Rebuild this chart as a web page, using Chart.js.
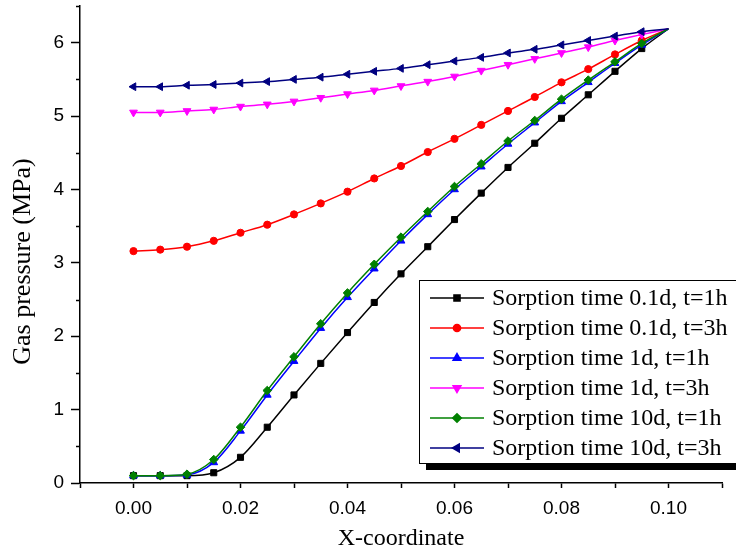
<!DOCTYPE html>
<html>
<head>
<meta charset="utf-8">
<script src="https://cdn.jsdelivr.net/npm/chart.js@4.4.1/dist/chart.umd.min.js"></script>
<style>
  html, body { margin: 0; padding: 0; background: #ffffff; }
  #wrap { width: 736px; height: 555px; position: relative; overflow: hidden; }
</style>
</head>
<body>
<div id="wrap"><canvas id="c" width="736" height="555"></canvas></div>
<script>
// Position along the sample (m)
const xCoord = [0.000, 0.005, 0.010, 0.015, 0.020, 0.025, 0.030, 0.035, 0.040, 0.045, 0.050,
                0.055, 0.060, 0.065, 0.070, 0.075, 0.080, 0.085, 0.090, 0.095, 0.100];

// Gas pressure (MPa) for each sorption time / elapsed time
const p01d1h = [0.10, 0.10, 0.10, 0.14, 0.35, 0.76, 1.20, 1.63, 2.05, 2.46, 2.85,
                3.22, 3.59, 3.95, 4.30, 4.63, 4.97, 5.29, 5.61, 5.92, 6.19];
const p01d3h = [3.16, 3.18, 3.22, 3.30, 3.41, 3.52, 3.66, 3.81, 3.97, 4.15, 4.32,
                4.51, 4.69, 4.88, 5.07, 5.26, 5.46, 5.64, 5.84, 6.03, 6.19];
const p1d1h  = [0.10, 0.10, 0.11, 0.28, 0.71, 1.20, 1.66, 2.11, 2.53, 2.92, 3.30,
                3.66, 4.00, 4.31, 4.62, 4.91, 5.20, 5.46, 5.72, 5.97, 6.19];
const p1d3h  = [5.05, 5.05, 5.07, 5.09, 5.13, 5.16, 5.20, 5.25, 5.30, 5.35, 5.41,
                5.47, 5.54, 5.62, 5.70, 5.78, 5.86, 5.94, 6.03, 6.11, 6.19];
const p10d1h = [0.10, 0.10, 0.12, 0.32, 0.76, 1.26, 1.72, 2.17, 2.59, 2.98, 3.35,
                3.70, 4.04, 4.35, 4.66, 4.94, 5.23, 5.49, 5.74, 5.99, 6.19];
const p10d3h = [5.40, 5.40, 5.42, 5.43, 5.45, 5.47, 5.50, 5.53, 5.57, 5.61, 5.65,
                5.70, 5.75, 5.80, 5.86, 5.91, 5.97, 6.03, 6.09, 6.15, 6.19];

const seriesNames = [
  'Sorption time 0.1d, t=1h',
  'Sorption time 0.1d, t=3h',
  'Sorption time 1d, t=1h',
  'Sorption time 1d, t=3h',
  'Sorption time 10d, t=1h',
  'Sorption time 10d, t=3h'
];
const seriesValues = [p01d1h, p01d3h, p1d1h, p1d3h, p10d1h, p10d3h];

// x-axis tick labels (every other minor step) and y-axis labels
const xTickLabels = ['0.00', '0.02', '0.04', '0.06', '0.08', '0.10'];
const yTickLabels = ['0', '1', '2', '3', '4', '5', '6'];

const styles = [
  { color: '#000000', pointStyle: 'rect',     rotation: 0,   radius: 4.3 },
  { color: '#ff0000', pointStyle: 'circle',   rotation: 0,   radius: 3.6 },
  { color: '#0000ff', pointStyle: 'triangle', rotation: 0,   radius: 4.5 },
  { color: '#ff00ff', pointStyle: 'triangle', rotation: 180, radius: 4.5 },
  { color: '#008000', pointStyle: 'rectRot',  rotation: 0,   radius: 4.3 },
  { color: '#000080', pointStyle: 'triangle', rotation: -90, radius: 4.5 }
];

const datasets = seriesValues.map((vals, i) => ({
  label: seriesNames[i],
  data: vals.map((v, k) => ({ x: xCoord[k], y: v })),
  borderColor: styles[i].color,
  backgroundColor: styles[i].color,
  pointBackgroundColor: styles[i].color,
  pointBorderColor: styles[i].color,
  pointStyle: styles[i].pointStyle,
  rotation: styles[i].rotation,
  // the boundary point at x = 0.10 carries no symbol
  pointRadius: vals.map((v, k) => (k === vals.length - 1 ? 0 : styles[i].radius)),
  pointHoverRadius: 0,
  pointBorderWidth: 1,
  borderWidth: 1.5,
  cubicInterpolationMode: 'monotone',
  order: seriesValues.length - i
}));

const SERIF = '"Liberation Serif", "Times New Roman", serif';
const SANS = '"Liberation Sans", Arial, sans-serif';
const Y_TITLE = 'Gas pressure (MPa)';

// Short minor ticks on the y axis (half-unit steps)
const minorTicks = {
  id: 'minorTicks',
  afterDraw(chart) {
    const ctx = chart.ctx;
    const y = chart.scales.y;
    ctx.save();
    ctx.strokeStyle = '#000';
    ctx.lineWidth = 1.5;
    for (let v = 0.5; v <= 6.5; v += 1) {
      const py = Math.round(y.getPixelForValue(v)) + 0.5;
      ctx.beginPath();
      ctx.moveTo(y.right - 4, py);
      ctx.lineTo(y.right, py);
      ctx.stroke();
    }
    ctx.restore();
  }
};

// Rotated y-axis title, set slightly below the axis midpoint
const yTitle = {
  id: 'yTitle',
  afterDraw(chart) {
    const ctx = chart.ctx;
    const y = chart.scales.y;
    const cy = (y.getPixelForValue(0) + y.getPixelForValue(6.5)) / 2 + 17;
    ctx.save();
    ctx.translate(23, cy);
    ctx.rotate(-Math.PI / 2);
    ctx.font = '26px ' + SERIF;
    ctx.fillStyle = '#000';
    ctx.textAlign = 'center';
    ctx.textBaseline = 'middle';
    ctx.fillText(Y_TITLE, 0, 0);
    ctx.restore();
  }
};

// Boxed legend with drop shadow, placed inside the plot area
const boxLegend = {
  id: 'boxLegend',
  afterDraw(chart) {
    const ctx = chart.ctx;
    const left = 419, top = 280, right = 760, bottom = 463;
    ctx.save();
    ctx.fillStyle = '#000';
    ctx.fillRect(left + 7, top + 7, right - left, bottom - top);
    ctx.fillStyle = '#fff';
    ctx.fillRect(left, top, right - left, bottom - top);
    ctx.strokeStyle = '#000';
    ctx.lineWidth = 1;
    ctx.strokeRect(left + 0.5, top + 0.5, right - left, bottom - top);
    ctx.font = '24px ' + SERIF;
    ctx.textBaseline = 'middle';
    ctx.textAlign = 'left';
    chart.data.datasets.forEach((ds, i) => {
      const cy = 298 + i * 30;
      ctx.strokeStyle = ds.borderColor;
      ctx.lineWidth = 1.5;
      ctx.beginPath();
      ctx.moveTo(430, cy);
      ctx.lineTo(484, cy);
      ctx.stroke();
      ctx.fillStyle = ds.borderColor;
      Chart.helpers.drawPoint(ctx, {
        pointStyle: ds.pointStyle,
        rotation: ds.rotation,
        radius: styles[i].radius,
        borderWidth: 1
      }, 457, cy);
      ctx.fillStyle = '#000';
      ctx.fillText(ds.label, 492, cy + 1);
    });
    ctx.restore();
  }
};

new Chart(document.getElementById('c'), {
  type: 'line',
  data: { datasets },
  options: {
    responsive: false,
    devicePixelRatio: 1,
    animation: false,
    events: [],
    layout: { padding: { top: 6, right: 14, left: 0, bottom: 0 } },
    plugins: {
      legend: { display: false },
      tooltip: { enabled: false }
    },
    scales: {
      x: {
        type: 'linear',
        min: -0.01,
        max: 0.11,
        border: { display: true, color: '#000', width: 1.5 },
        grid: { display: true, drawOnChartArea: false, drawTicks: true, tickLength: 5, tickColor: '#000', tickWidth: 1.5 },
        ticks: {
          stepSize: 0.01,
          autoSkip: false,
          maxRotation: 0,
          padding: 9,
          color: '#000',
          font: { family: SANS, size: 19 },
          callback: (v) => {
            const k = Math.round(v * 100);
            if (k < 0 || k % 2 !== 0) return '';
            return xTickLabels[k / 2] || '';
          }
        },
        title: {
          display: true,
          text: 'X-coordinate',
          color: '#000',
          font: { family: SERIF, size: 24 },
          padding: { top: 4, bottom: 2 }
        },
        afterFit(scale) { scale.height = 72; scale.paddingLeft = 0; scale.paddingRight = 0; }
      },
      y: {
        type: 'linear',
        min: 0,
        max: 6.5,
        border: { display: true, color: '#000', width: 1.5 },
        grid: {
          display: true, drawOnChartArea: false, drawTicks: true, tickLength: 9, tickWidth: 1.5,
          tickColor: (c) => (c.tick && Number.isInteger(c.tick.value) ? '#000' : 'rgba(0,0,0,0)')
        },
        ticks: {
          stepSize: 0.5,
          autoSkip: false,
          padding: 7,
          color: '#000',
          font: { family: SANS, size: 19 },
          callback: (v) => (Number.isInteger(v) ? yTickLabels[v] : '')
        },
        title: { display: false },
        afterFit(scale) { scale.width = 80; scale.paddingTop = 0; scale.paddingBottom = 0; }
      }
    }
  },
  plugins: [minorTicks, yTitle, boxLegend]
});
</script>
</body>
</html>
